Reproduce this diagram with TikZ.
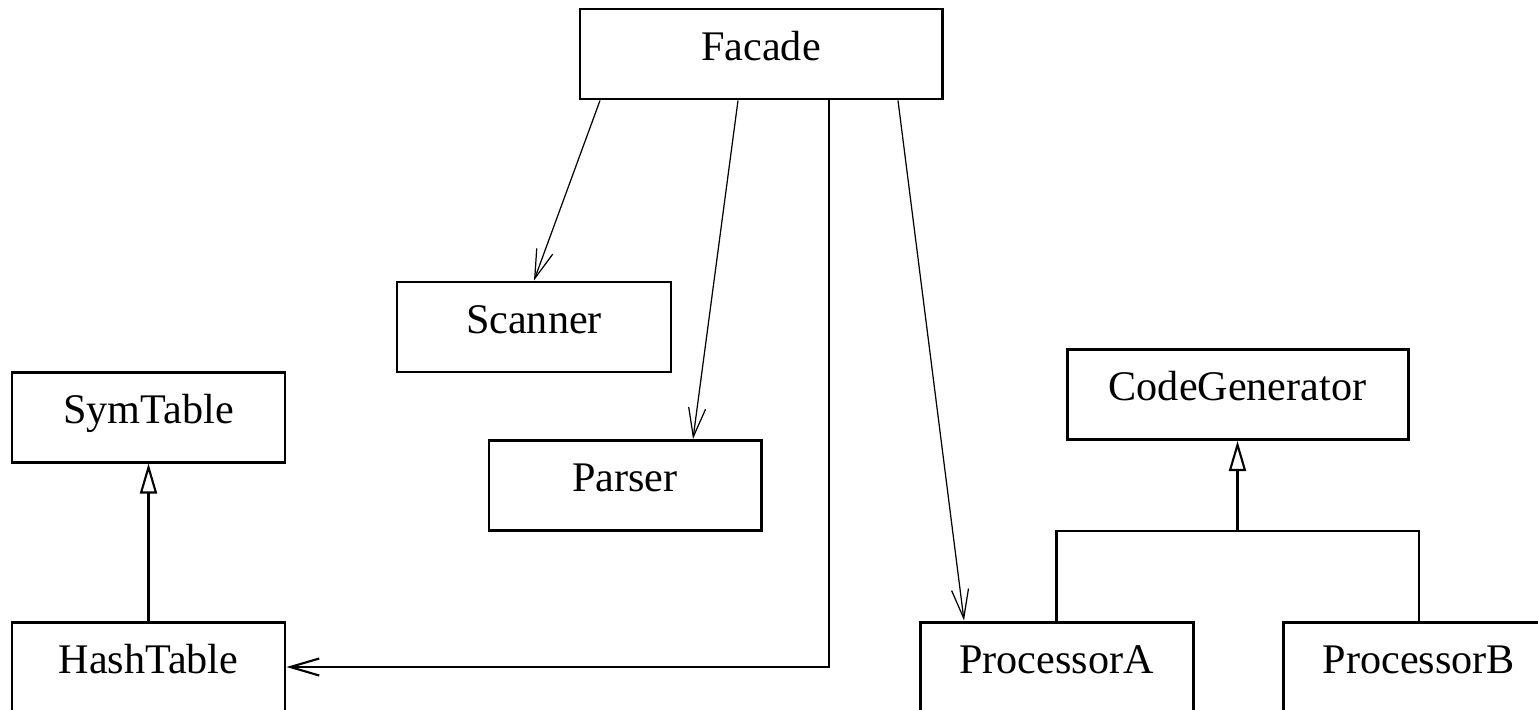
\documentclass[tikz,border=0pt]{standalone}
\usepackage{fontspec}
\setmainfont{Liberation Serif}
\usetikzlibrary{arrows.meta}
\tikzset{
  cls/.style={draw, line width=0.85pt, inner sep=0pt, text height=0.51cm, text depth=0.39cm,
    font=\fontsize{12}{14}\selectfont},
  uses/.style={line width=0.35pt, -{Straight Barb[length=2.9mm,width=1.7mm]}},
  usesthick/.style={line width=0.6pt, -{Straight Barb[length=2.9mm,width=1.7mm]}},
  isa/.style={line width=0.6pt, -{Triangle[open,length=3mm,width=1.7mm]}},
  tree/.style={line width=0.6pt}
}
\begin{document}
\begin{tikzpicture}
\useasboundingbox (0,0) rectangle (15.38,7.09);
\clip (0,0) rectangle (15.38,7.09);
\node(fac) at (7.61,6.55) [cls, minimum width=3.62cm] {Facade};
\node(scan) at (5.34,3.82) [cls, minimum width=2.74cm] {Scanner};
\node(pars) at (6.25,2.235) [cls, minimum width=2.72cm] {Parser};
\node(sym) at (1.485,2.92) [cls, minimum width=2.73cm] {SymTable};
\node(gen) at (12.375,3.145) [cls, minimum width=3.41cm] {CodeGenerator};
\node(hash) at (1.485,0.42) [cls, minimum width=2.73cm] {HashTable};
\node(pa) at (10.565,0.42) [cls, minimum width=2.73cm] {ProcessorA};
\node(pb) at (14.19,0.42) [cls, minimum width=2.72cm] {ProcessorB};
\coordinate(join) at (12.375,1.78);
\draw[uses] ([xshift=-1.61cm]fac.south) -- (scan.north);
\draw[uses] ([xshift=-0.23cm]fac.south) -- ([xshift=0.68cm]pars.north);
\draw[uses] ([xshift=1.37cm]fac.south) -- ([xshift=-0.925cm]pa.north);
\draw[usesthick] ([xshift=0.68cm]fac.south) |- (hash.east);
\draw[isa] (hash.north) -- (sym.south);
\draw[tree] (pa.north) |- (join) -| (pb.north);
\draw[isa] (join) -- (gen.south);
\end{tikzpicture}
\end{document}
